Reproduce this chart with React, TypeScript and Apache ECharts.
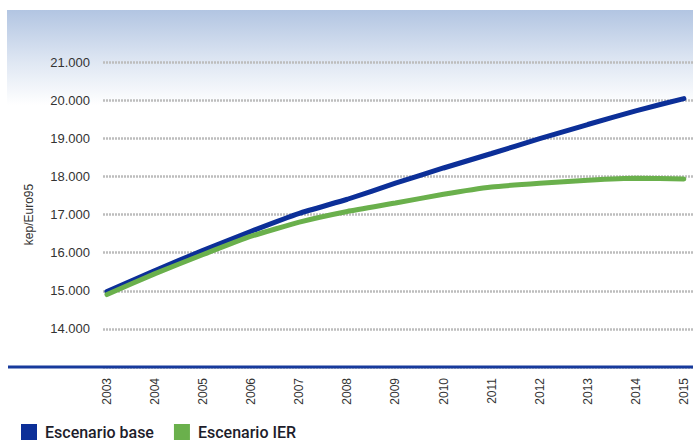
import React, { useEffect, useRef } from "react";
import * as echarts from "echarts";

const years = [2003, 2004, 2005, 2006, 2007, 2008, 2009, 2010, 2011, 2012, 2013, 2014, 2015];
const escenarioBase = [14980, 15530, 16060, 16560, 17030, 17400, 17820, 18220, 18600, 18990, 19360, 19720, 20040];
const escenarioIER = [14900, 15450, 15950, 16430, 16800, 17080, 17300, 17530, 17720, 17820, 17900, 17950, 17930];
const yTicks = [14000, 15000, 16000, 17000, 18000, 19000, 20000, 21000];

const fmtThousands = (v: number) => {
  const s = String(Math.round(v));
  return s.replace(/\B(?=(\d{3})+(?!\d))/g, ".");
};

export default function App() {
  const ref = useRef<HTMLDivElement>(null);

  useEffect(() => {
    document.body.style.margin = "0";
    if (!ref.current) return;
    const chart = echarts.init(ref.current, null, { renderer: "svg" });
    const font = "'Liberation Sans', Arial, sans-serif";
    chart.setOption({
      animation: false,
      backgroundColor: "#ffffff",
      graphic: [
        {
          type: "rect",
          z: -10,
          silent: true,
          shape: { x: 7, y: 10, width: 686, height: 95 },
          style: {
            fill: new echarts.graphic.LinearGradient(0, 0, 0, 1, [
              { offset: 0, color: "#b2c5e2" },
              { offset: 0.55, color: "#dfe7f3" },
              { offset: 1, color: "#ffffff" },
            ]),
          },
        },
        {
          type: "line",
          z: 10,
          silent: true,
          shape: { x1: 8, y1: 367, x2: 693, y2: 367 },
          style: { stroke: "#173a9c", lineWidth: 3 },
        },
      ],
      legend: {
        left: 21,
        top: 424,
        padding: 0,
        itemWidth: 16,
        itemHeight: 16,
        itemGap: 20,
        icon: "rect",
        textStyle: {
          fontFamily: "Roboto, sans-serif",
          fontSize: 16,
          lineHeight: 16,
          fontWeight: 500,
          color: "#1d1d2b",
          padding: [0, 0, 0, 3],
        },
        data: [
          { name: "Escenario base", itemStyle: { color: "#0c2f98" } },
          { name: "Escenario IER", itemStyle: { color: "#6ab04c" } },
        ],
      },
      grid: { left: 103, right: 0, top: 62, bottom: 76, containLabel: false },
      xAxis: {
        type: "value",
        min: 2002.917,
        max: 2015.19,
        axisLine: { show: false },
        axisTick: { show: false },
        splitLine: { show: false },
        axisLabel: {
          customValues: years,
          rotate: 90,
          margin: 11,
          fontSize: 12,
          fontFamily: font,
          color: "#333333",
          formatter: (v: number) => String(Math.round(v)),
        },
      },
      yAxis: {
        type: "value",
        min: 13000,
        max: 21000,
        interval: 1000,
        name: "kep/Euro95",
        nameLocation: "middle",
        nameGap: 68,
        nameTextStyle: { fontSize: 12, fontFamily: font, color: "#333333" },
        axisLine: { show: false },
        axisTick: { show: false },
        axisLabel: {
          margin: 13,
          fontSize: 13,
          fontFamily: font,
          color: "#333333",
          customValues: yTicks,
          formatter: (v: number) => fmtThousands(v),
        },
        splitLine: {
          show: true,
          lineStyle: { color: "#bdbdbd", width: 2.5, type: [2, 1] },
        },
      },
      series: [
        {
          name: "Escenario base",
          type: "line",
          data: years.map((y, i) => [y, escenarioBase[i]]),
          symbol: "none",
          smooth: 0.15,
          z: 3,
          lineStyle: { color: "#0c2f98", width: 5, cap: "round" },
          itemStyle: { color: "#0c2f98" },
        },
        {
          name: "Escenario IER",
          type: "line",
          data: years.map((y, i) => [y, escenarioIER[i]]),
          symbol: "none",
          smooth: 0.15,
          z: 4,
          lineStyle: { color: "#6ab04c", width: 5, cap: "round" },
          itemStyle: { color: "#6ab04c" },
        },
      ],
    });
    return () => chart.dispose();
  }, []);

  return <div ref={ref} style={{ width: 693, height: 443 }} />;
}
